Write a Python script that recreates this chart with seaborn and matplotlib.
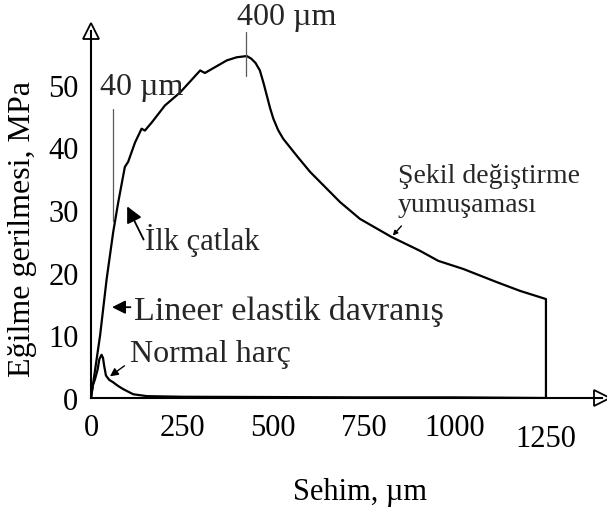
import numpy as np
import pandas as pd
import matplotlib
matplotlib.use('Agg')
import matplotlib.pyplot as plt
import seaborn as sns

# egilme egrisi - lifli harc
main_x = [0, 25, 43, 61, 75, 93, 102, 121, 139, 148, 167, 203, 245, 300, 313, 373, 400, 428,
          440, 452, 464, 474, 483, 492, 501, 514, 528, 565, 602, 643, 684, 739, 826, 904, 954,
          1023, 1115, 1179, 1250, 1250]
main_y = [0, 10, 19, 26.5, 31.3, 36.9, 37.7, 40.8, 43.0, 42.7, 44.0, 46.7, 48.8, 52.3, 51.9, 53.9, 54.4, 54.6,
          54.2, 53.5, 52.3, 50.3, 48.3, 46.3, 44.6, 42.8, 41.4, 38.7, 36.1, 33.7, 31.3, 28.6, 25.7, 23.5, 21.9,
          20.6, 18.5, 17.1, 15.8, 0]

# normal harc
harc_x = [0, 5, 11, 18, 23, 29, 33, 36, 41, 50, 61, 75, 89, 116, 153, 250, 500, 750, 1000, 1250]
harc_y = [0, 2.0, 3.0, 4.5, 6.2, 6.9, 6.4, 5.2, 3.6, 2.9, 2.5, 1.9, 1.4, 0.6, 0.3, 0.2, 0.15, 0.1, 0.1, 0.0]

x_ticks = [0, 250, 500, 750, 1000, 1250]
y_ticks = [0, 10, 20, 30, 40, 50]

sns.set_theme(style='white')
plt.rcParams['font.family'] = ['Liberation Serif', 'DejaVu Serif']

fig = plt.figure(figsize=(6.07, 5.10), dpi=100)
ax = fig.add_axes([91/607, 111/510, 511/607, 367/510])

main = pd.DataFrame({'x': main_x, 'y': main_y})
harc = pd.DataFrame({'x': harc_x, 'y': harc_y})
sns.lineplot(data=main, x='x', y='y', sort=False, estimator=None, color='black', lw=1.6, ax=ax)
sns.lineplot(data=harc, x='x', y='y', sort=False, estimator=None, color='black', lw=1.6, ax=ax)

ax.set_xlim(0, 1404)
ax.set_ylim(0, 58.6)
ax.set_xticks(x_ticks)
ax.set_yticks(y_ticks)
ax.tick_params(axis='both', labelsize=22, colors='black', direction='out', length=7, width=1.2)
ax.tick_params(axis='y', pad=2)
ax.tick_params(axis='x', pad=4)
ax.xaxis.get_major_ticks()[-1].set_pad(12)

for s in ['top', 'right']:
    ax.spines[s].set_visible(False)
for s in ['left', 'bottom']:
    ax.spines[s].set_color('black')
    ax.spines[s].set_linewidth(1.5)

# ok uclari
ax.plot([1], [0], marker='>', ms=11, mfc='white', mec='black', mew=1.3, transform=ax.transAxes, clip_on=False)
ax.plot([0], [1], marker='^', ms=11, mfc='white', mec='black', mew=1.3, transform=ax.transAxes, clip_on=False)

ax.set_xlabel('Sehim, µm', fontsize=22, color='black')
ax.xaxis.set_label_coords(0.526, -0.215)
ax.set_ylabel('Eğilme gerilmesi, MPa', fontsize=23, color='black')
ax.yaxis.set_label_coords(-0.106, 0.463)

# isaretler
ax.plot([426, 426], [51.4, 58.5], color='0.35', lw=0.9, clip_on=False)
ax.text(402, 59.7, '400 µm', fontsize=23, ha='left', va='baseline')
ax.plot([60, 60], [28.3, 46.2], color='0.35', lw=0.9)
ax.text(25, 48.6, '40 µm', fontsize=23, ha='left', va='baseline')

ax.text(148, 23.8, 'İlk çatlak', fontsize=22, ha='left', va='baseline')
ax.annotate('', xy=(96, 31), xytext=(148, 24.9),
            arrowprops=dict(arrowstyle='-|>', color='black', lw=1.3, mutation_scale=24))

ax.text(117, 12.6, 'Lineer elastik davranış', fontsize=24.5, ha='left', va='baseline')
ax.annotate('', xy=(50, 14.5), xytext=(116, 14.5),
            arrowprops=dict(arrowstyle='-|>', color='black', lw=1.3, mutation_scale=20))

ax.text(107, 5.9, 'Normal harç', fontsize=23, ha='left', va='baseline')
ax.annotate('', xy=(46, 3.2), xytext=(98, 5.4),
            arrowprops=dict(arrowstyle='-|>', color='black', lw=1.0, mutation_scale=12))

ax.text(843, 34.5, 'Şekil değiştirme', fontsize=20, ha='left', va='baseline')
ax.text(843, 29.9, 'yumuşaması', fontsize=20, ha='left', va='baseline')
ax.annotate('', xy=(824, 25.6), xytext=(858, 27.8),
            arrowprops=dict(arrowstyle='-|>', color='black', lw=1.0, mutation_scale=7))

fig.savefig('out.png', dpi=100, facecolor='white')
